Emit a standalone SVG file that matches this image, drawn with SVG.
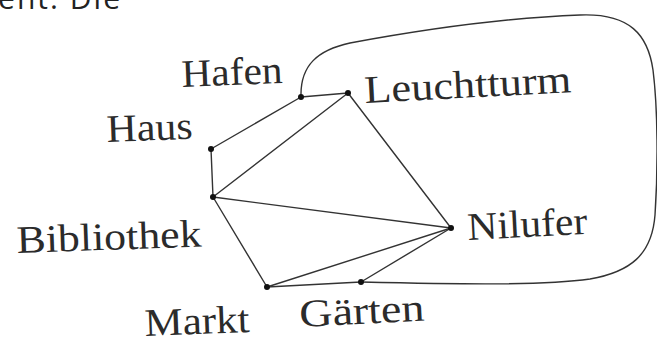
<svg xmlns="http://www.w3.org/2000/svg" width="657" height="341" viewBox="0 0 657 341">
<style>
.lbl{font-family:"Liberation Serif","DejaVu Serif",serif;font-size:39px;fill:#2b2b2b}
.e{stroke:#333;stroke-width:1.4;fill:none;stroke-linecap:round}
.n{fill:#111}
.top{font-family:"Open Sans","Noto Sans",sans-serif;font-size:30px;fill:#222}
</style>
<rect width="657" height="341" fill="#fff"/>
<text class="top" x="-2" y="9" textLength="122" lengthAdjust="spacing">ent. Die</text>
<g id="connectors">
<line class="e" x1="301" y1="97" x2="348" y2="93"/>
<line class="e" x1="301" y1="97" x2="211" y2="149"/>
<line class="e" x1="211" y1="149" x2="213" y2="197"/>
<line class="e" x1="213" y1="197" x2="348" y2="93"/>
<line class="e" x1="213" y1="197" x2="451" y2="228"/>
<line class="e" x1="213" y1="197" x2="267" y2="287"/>
<line class="e" x1="348" y1="93" x2="451" y2="228"/>
<line class="e" x1="267" y1="287" x2="451" y2="228"/>
<line class="e" x1="267" y1="287" x2="361" y2="282"/>
<line class="e" x1="361" y1="282" x2="451" y2="228"/>
<path class="e" d="M301,97 C300,65 318,50 350,43 C420,30 500,18 580,15 C630,13 648,35 653,70 C658,110 658,170 655,215 C652,255 630,272 590,279 C540,286 450,284 361,282"/>
</g>
<g id="hafen"><circle class="n" cx="301" cy="97" r="3"/><text class="lbl" x="182" y="87" textLength="101" lengthAdjust="spacingAndGlyphs" transform="rotate(-2.4 182 87)">Hafen</text></g>
<g id="leuchtturm"><circle class="n" cx="348" cy="93" r="3"/><text class="lbl" x="365" y="103" textLength="207" lengthAdjust="spacingAndGlyphs" transform="rotate(-3 365 103)">Leuchtturm</text></g>
<g id="haus"><circle class="n" cx="211" cy="149" r="3"/><text class="lbl" x="107" y="142" textLength="86" lengthAdjust="spacingAndGlyphs" transform="rotate(-2.2 107 142)">Haus</text></g>
<g id="bibliothek"><circle class="n" cx="213" cy="197" r="3"/><text class="lbl" x="17" y="253" textLength="185" lengthAdjust="spacingAndGlyphs" transform="rotate(-2 17 253)">Bibliothek</text></g>
<g id="nilufer"><circle class="n" cx="451" cy="228" r="3"/><text class="lbl" x="468" y="240" textLength="120" lengthAdjust="spacingAndGlyphs" transform="rotate(-3 468 240)">Nilufer</text></g>
<g id="markt"><circle class="n" cx="267" cy="287" r="3"/><text class="lbl" x="145" y="336" textLength="105" lengthAdjust="spacingAndGlyphs" transform="rotate(-2.2 145 336)">Markt</text></g>
<g id="gaerten"><circle class="n" cx="361" cy="282" r="3"/><text class="lbl" x="300" y="327" textLength="125" lengthAdjust="spacingAndGlyphs" transform="rotate(-3 300 327)">Gärten</text></g>
</svg>
